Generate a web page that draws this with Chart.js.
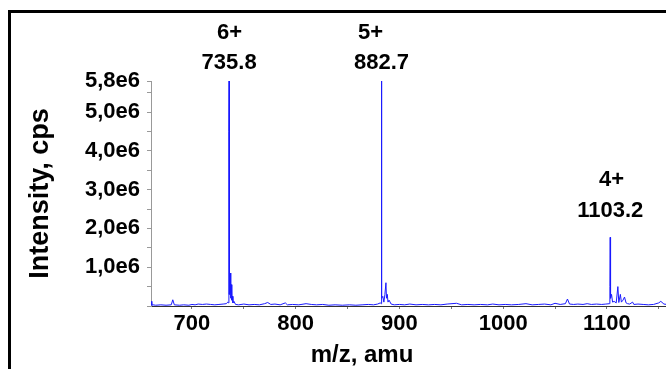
<!DOCTYPE html>
<html>
<head>
<meta charset="utf-8">
<title>Mass spectrum</title>
<script src="https://cdn.jsdelivr.net/npm/chart.js@4.4.1/dist/chart.umd.min.js"></script>
<style>
  html, body { margin: 0; padding: 0; background: #fff; overflow: hidden; }
  #wrap { position: absolute; left: 0; top: 0; width: 666px; height: 369px; }
  #frame {
    position: absolute; left: 8px; top: 10px; width: 720px; height: 420px;
    border: 3px solid #000; pointer-events: none;
  }
</style>
</head>
<body>
<div id="wrap">
  <canvas id="spectrum" width="666" height="369"></canvas>
  <div id="frame"></div>
</div>
<script>
// Spectrum profile: m/z (amu) and intensity (cps)
const mz = [
  660.8, 661.3, 662.5, 665, 670, 675, 680, 681.5, 683, 688, 692, 697, 700, 703, 706, 710,
  714, 718, 722, 726, 730, 733, 734.6,
  735.4, 735.6, 735.8, 735.9, 736.0, 736.3, 736.8, 737.2, 737.6, 738.0, 738.4, 738.9, 739.5, 740.5, 742,
  745, 750, 755, 760, 765, 770, 773, 776, 780, 785, 790, 792, 797, 803, 810, 815, 820, 826,
  832, 838, 845, 852, 858, 864, 870, 875, 879, 881.5,
  882.4, 882.6, 882.7, 882.8, 882.9, 883.2, 884, 885, 886, 887, 887.5, 888.3, 889, 890, 892,
  895, 900, 905, 910, 916, 922, 928, 934, 940, 946, 955, 960, 966, 972, 978, 985, 990, 996,
  1002, 1008, 1015, 1022, 1028, 1034, 1040, 1046, 1050, 1055, 1060, 1062, 1064, 1068, 1072,
  1077, 1081, 1085, 1090, 1095, 1099, 1102.5,
  1102.9, 1103.2, 1103.4, 1103.7, 1104.5, 1105.5, 1107, 1109, 1110.6, 1111.5, 1113, 1114,
  1115.5, 1117, 1118.5, 1120, 1122, 1124.8, 1126, 1130, 1135, 1140, 1145, 1150, 1152, 1155, 1158
];
const intensity = [
  120000, 20000, 30000, 20000, 30000, 20000, 30000, 160000, 30000, 20000, 30000, 20000, 40000, 30000, 50000, 40000,
  50000, 40000, 30000, 40000, 50000, 60000, 100000,
  80000, 4500000, 5800000, 4500000, 1800000, 300000, 850000, 200000, 350000, 550000, 150000, 250000, 80000, 120000, 40000,
  30000, 50000, 30000, 40000, 30000, 60000, 90000, 40000, 50000, 30000, 80000, 30000, 40000, 30000, 60000, 40000, 30000, 40000,
  20000, 30000, 20000, 30000, 20000, 30000, 40000, 30000, 50000, 80000,
  60000, 4700000, 5800000, 4600000, 1500000, 200000, 250000, 100000, 300000, 600000, 200000, 300000, 100000, 150000, 50000,
  30000, 40000, 30000, 50000, 30000, 40000, 30000, 40000, 30000, 50000, 70000, 30000, 40000, 30000, 40000, 30000, 50000, 30000,
  40000, 30000, 40000, 60000, 30000, 40000, 50000, 30000, 70000, 40000, 60000, 180000, 50000, 40000, 50000,
  40000, 60000, 40000, 50000, 40000, 50000, 60000,
  500000, 1770000, 600000, 200000, 300000, 100000, 120000, 80000, 500000, 90000, 300000, 100000,
  150000, 230000, 80000, 60000, 50000, 100000, 40000, 50000, 40000, 30000, 40000, 80000, 120000, 50000, 40000
];

// Charge state / peak labels (label heights given in intensity units)
const peakMz = [735.8, 882.7, 1103.2];
const chargeMz = [736.2, 872.2, 1104.5];
const peakCharge = ['6+', '5+', '4+'];
const peakText = ['735.8', '882.7', '1103.2'];
const chargeAt = [7030000, 7030000, 3250000];
const textAt = [6260000, 6260000, 2450000];

const yTicks = [0, 500000, 1000000, 1500000, 2000000, 2500000, 3000000, 3500000,
  4000000, 4500000, 5000000, 5500000, 5800000];
const yLabels = { 1000000: '1,0e6', 2000000: '2,0e6', 3000000: '3,0e6', 4000000: '4,0e6',
  5000000: '5,0e6', 5800000: '5,8e6' };
const xTicks = [700, 750, 800, 850, 900, 950, 1000, 1050, 1100, 1150];

const fontFamily = "'Liberation Sans', Arial, sans-serif";

const peakLabels = {
  id: 'peakLabels',
  afterDatasetsDraw(chart) {
    const { ctx, scales: { x, y } } = chart;
    ctx.save();
    ctx.fillStyle = '#000';
    ctx.textAlign = 'center';
    ctx.textBaseline = 'middle';
    ctx.font = 'bold 22px ' + fontFamily;
    peakMz.forEach((m, i) => {
      ctx.fillText(peakCharge[i], x.getPixelForValue(chargeMz[i]), y.getPixelForValue(chargeAt[i]));
      ctx.fillText(peakText[i], x.getPixelForValue(m), y.getPixelForValue(textAt[i]));
    });
    // x axis title sits left of the axis centre
    ctx.font = 'bold 24px ' + fontFamily;
    ctx.fillText('m/z, amu', 362, 355);
    ctx.restore();
  }
};

new Chart(document.getElementById('spectrum'), {
  type: 'scatter',
  data: {
    datasets: [{
      data: mz.map((m, i) => ({ x: m, y: intensity[i] })),
      showLine: true,
      borderColor: 'rgb(25,25,255)',
      borderWidth: 1,
      pointRadius: 0,
      tension: 0
    }]
  },
  options: {
    responsive: false,
    animation: false,
    events: [],
    layout: { padding: { left: 22, top: 81, right: 0, bottom: 0 } },
    plugins: { legend: { display: false }, tooltip: { enabled: false } },
    scales: {
      x: {
        type: 'linear',
        min: 660.5,
        max: 1157,
        afterBuildTicks: s => { s.ticks = xTicks.map(v => ({ value: v })); },
        afterFit: s => { s.height = 63; },
        grid: { drawOnChartArea: false, drawTicks: true, tickLength: 3, color: '#777' },
        border: { display: true, color: '#333', width: 1 },
        ticks: {
          autoSkip: false,
          maxRotation: 0,
          padding: 2,
          color: '#000',
          font: { family: fontFamily, size: 22, weight: 'bold' },
          callback: v => (v % 100 === 0 ? String(v) : '')
        }
      },
      y: {
        min: 0,
        max: 5800000,
        afterBuildTicks: s => { s.ticks = yTicks.map(v => ({ value: v })); },
        afterFit: s => { s.width = 129; },
        grid: { drawOnChartArea: false, drawTicks: true, tickLength: 4, color: '#999' },
        border: { display: true, color: '#999', width: 1 },
        title: {
          display: true,
          text: 'Intensity, cps',
          color: '#000',
          padding: { top: 2, bottom: 0 },
          font: { family: fontFamily, size: 27, weight: 'bold' }
        },
        ticks: {
          autoSkip: false,
          padding: 7,
          color: '#000',
          font: { family: fontFamily, size: 22, weight: 'bold' },
          callback: v => yLabels[v] || ''
        }
      }
    }
  },
  plugins: [peakLabels]
});
</script>
</body>
</html>
